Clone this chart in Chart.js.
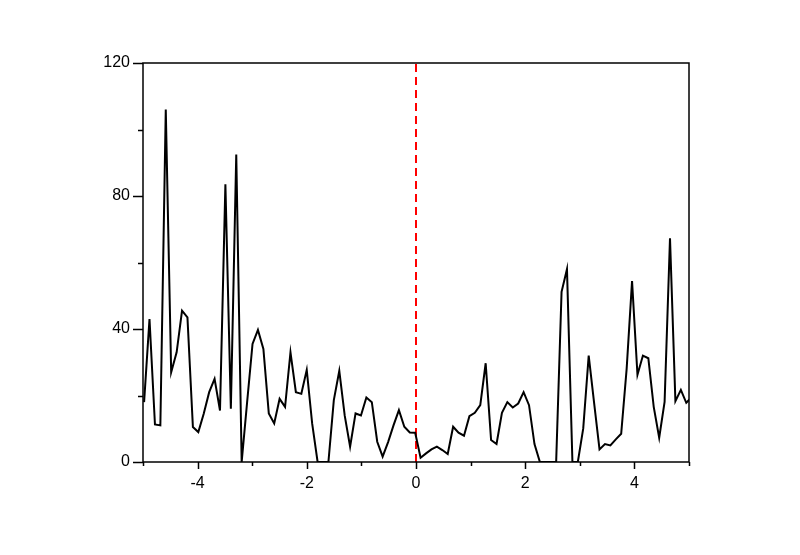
<!DOCTYPE html>
<html>
<head>
<meta charset="utf-8">
<script src="https://cdn.jsdelivr.net/npm/chart.js@4.4.1/dist/chart.umd.min.js"></script>
<style>
  html, body { margin: 0; padding: 0; background: #fff; }
  #wrap { width: 800px; height: 555px; }
</style>
</head>
<body>
<div id="wrap"><canvas id="chart" width="800" height="555"></canvas></div>
<script>
// x positions of the samples (last one runs past the frame)
var xValues = [
  -4.980, -4.881, -4.781, -4.682, -4.583, -4.484, -4.384, -4.285, -4.186, -4.086,
  -3.987, -3.888, -3.788, -3.689, -3.590, -3.491, -3.391, -3.292, -3.193, -3.093,
  -2.994, -2.895, -2.795, -2.696, -2.597, -2.498, -2.398, -2.299, -2.200, -2.100,
  -2.001, -1.902, -1.802, -1.703, -1.604, -1.505, -1.405, -1.306, -1.207, -1.107,
  -1.008, -0.909, -0.809, -0.710, -0.611, -0.511, -0.412, -0.313, -0.214, -0.114,
  -0.015,  0.084,  0.184,  0.283,  0.382,  0.482,  0.581,  0.680,  0.779,  0.879,
   0.978,  1.077,  1.177,  1.276,  1.375,  1.475,  1.574,  1.673,  1.772,  1.872,
   1.971,  2.070,  2.170,  2.269,  2.368,  2.468,  2.567,  2.666,  2.765,  2.865,
   2.964,  3.063,  3.163,  3.262,  3.361,  3.461,  3.560,  3.659,  3.758,  3.858,
   3.957,  4.056,  4.156,  4.255,  4.354,  4.454,  4.553,  4.652,  4.751,  4.851,
   4.950,  5.049
];
// signal values
var signal = [
  18, 43, 11.3, 11, 106, 27, 33, 45.5, 43.5, 10.5,
  9, 14.5, 21, 25, 15.5, 83.5, 16, 92.5, 0, 18,
  35.5, 39.7, 34, 14.6, 11.6, 19, 16.6, 33, 21, 20.5,
  27.7, 11.6, 0, 0, 0, 18.6, 27.4, 14, 4.6, 14.6,
  14, 19.4, 18, 6.1, 1.6, 6, 11, 15.6, 10.6, 8.9,
  8.8, 1.3, 2.6, 3.8, 4.6, 3.6, 2.4, 10.6, 8.8, 7.9,
  13.8, 14.8, 17.1, 29.7, 6.6, 5.4, 14.8, 18, 16.4, 17.6,
  21, 17.1, 5.4, 0, 0, 0, 0, 51.2, 58, 0,
  0, 10.1, 32, 17.8, 3.8, 5.4, 5, 6.8, 8.5, 28,
  54.4, 26.2, 32, 31.2, 16.6, 7.3, 18.1, 67.3, 18.3, 21.7,
  17.8, 19.5
];
// vertical marker at x = 0
var markerX = [0, 0];
var markerY = [0, 120];

var xMin = -5, xMax = 5;
var yMin = 0, yMax = 120;

var linePoints = [];
for (var i = 0; i < xValues.length; i++) {
  linePoints.push({ x: xValues[i], y: signal[i] });
}
var markerPoints = [];
for (var j = 0; j < markerX.length; j++) {
  markerPoints.push({ x: markerX[j], y: markerY[j] });
}

// frame + major/minor tick marks
var frameTicks = {
  id: "frameTicks",
  afterDraw: function(chart) {
    var c = chart.ctx;
    var a = chart.chartArea;
    var xs = chart.scales.x, ys = chart.scales.y;
    c.save();
    c.strokeStyle = "#000";
    c.lineWidth = 1.5;
    c.strokeRect(a.left, a.top, a.right - a.left, a.bottom - a.top);
    c.beginPath();
    xs.ticks.forEach(function(t) {
      var px = Math.round(xs.getPixelForValue(t.value)) + 0.5;
      var len = (t.value % 2 === 0) ? 7 : 4;
      c.moveTo(px, a.bottom);
      c.lineTo(px, a.bottom + len);
    });
    ys.ticks.forEach(function(t) {
      var py = Math.round(ys.getPixelForValue(t.value)) + 0.5;
      var len = (t.value % 40 === 0) ? 10 : 5;
      c.moveTo(a.left, py);
      c.lineTo(a.left - len, py);
    });
    c.stroke();
    c.restore();
  }
};

var ctx = document.getElementById("chart");
var chart = new Chart(ctx, {
  type: "line",
  data: {
    datasets: [
      {
        data: linePoints,
        borderColor: "#000",
        borderWidth: 2,
        pointRadius: 0,
        fill: false,
        tension: 0
      },
      {
        data: markerPoints,
        borderColor: "#ff0000",
        borderWidth: 2,
        borderDash: [8, 5],
        pointRadius: 0,
        fill: false
      }
    ]
  },
  options: {
    responsive: false,
    animation: false,
    layout: { padding: { left: 0, right: 111, top: 63, bottom: 0 } },
    plugins: {
      legend: { display: false },
      tooltip: { enabled: false }
    },
    scales: {
      x: {
        type: "linear",
        min: xMin,
        max: xMax,
        grid: { display: false },
        border: { display: false },
        ticks: {
          stepSize: 1,
          padding: 4,
          color: "#000",
          font: { family: "Liberation Sans", size: 16 },
          maxRotation: 0,
          autoSkip: false,
          callback: function(v) { return v % 2 === 0 ? String(v) : ""; }
        },
        afterFit: function(s) { s.height = 93; }
      },
      y: {
        min: yMin,
        max: yMax,
        grid: { display: false },
        border: { display: false },
        ticks: {
          stepSize: 20,
          padding: 5,
          color: "#000",
          font: { family: "Liberation Sans", size: 16 },
          autoSkip: false,
          callback: function(v) { return v % 40 === 0 ? String(v) : ""; }
        },
        afterFit: function(s) { s.width = 143; }
      }
    }
  },
  plugins: [frameTicks]
});
</script>
</body>
</html>
